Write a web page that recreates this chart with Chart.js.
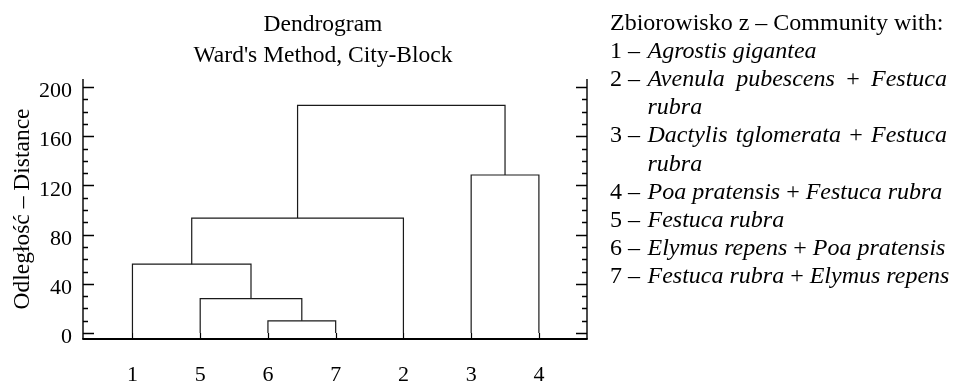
<!DOCTYPE html>
<html><head><meta charset="utf-8">
<script src="https://cdn.jsdelivr.net/npm/chart.js@4.4.1/dist/chart.umd.min.js"></script>
<style>html,body{margin:0;padding:0;background:#fff;overflow:hidden}#wrap{width:958px;height:383px;position:relative}</style>
</head><body><div id="wrap"><canvas id="c" width="958" height="383"></canvas></div>
<script>
// ---- data ----
const leafOrder = ['1', '5', '6', '7', '2', '3', '4'];
const mergeLeft = ['6', '5', '1', 'm3', '3', 'm4'];
const mergeRight = ['7', 'm1', 'm2', '2', '4', 'm5'];
const mergeHeight = [10, 28, 56, 93.5, 128.5, 185];
const yTicks = [0, 40, 80, 120, 160, 200];
const yMinorStep = 10;
const titleLines = ['Dendrogram', "Ward's Method, City-Block"];
const yTitle = 'Odległość – Distance';
const legendHeader = 'Zbiorowisko z – Community with:';
const legendNums = ['1', '2', '3', '4', '5', '6', '7'];
const legendSpecies = [
  ['Agrostis gigantea'],
  ['Avenula pubescens', 'Festuca rubra'],
  ['Dactylis tglomerata', 'Festuca rubra'],
  ['Poa pratensis', 'Festuca rubra'],
  ['Festuca rubra'],
  ['Elymus repens', 'Poa pratensis'],
  ['Festuca rubra', 'Elymus repens']
];

// ---- build dendrogram links ----
const FONT = "'Liberation Serif','Times New Roman',serif";
const fontUp = s => s + 'px ' + FONT;
const fontIt = s => 'italic ' + s + 'px ' + FONT;
const LINE = '#1a1a1a';

const pos = {};
leafOrder.forEach((l, i) => { pos[l] = { x: i + 1, y: 0 }; });
const datasets = [];
mergeHeight.forEach((h, i) => {
  const a = pos[mergeLeft[i]], b = pos[mergeRight[i]];
  datasets.push({
    data: [{ x: a.x, y: a.y }, { x: a.x, y: h }, { x: b.x, y: h }, { x: b.x, y: b.y }],
    borderColor: LINE, borderWidth: 1.2, pointRadius: 0, tension: 0, fill: false
  });
  pos['m' + (i + 1)] = { x: (a.x + b.x) / 2, y: h };
});

// ---- plugins ----
const axesPlugin = {
  id: 'axesFrame',
  afterDatasetsDraw(chart) {
    const ctx = chart.ctx, ca = chart.chartArea, ys = chart.scales.y, xs = chart.scales.x;
    ctx.save();
    ctx.strokeStyle = '#000';
    ctx.lineWidth = 1.4;
    ctx.beginPath();
    ctx.moveTo(ca.left, ca.top); ctx.lineTo(ca.left, ca.bottom);
    ctx.moveTo(ca.right, ca.top); ctx.lineTo(ca.right, ca.bottom);
    ctx.stroke();
    ctx.lineWidth = 2;
    ctx.beginPath();
    ctx.moveTo(ca.left - 0.7, ca.bottom); ctx.lineTo(ca.right + 0.7, ca.bottom);
    ctx.stroke();
    // y ticks (major + minor), both sides, pointing inward
    ctx.lineWidth = 1.4;
    ctx.beginPath();
    const yMax = yTicks[yTicks.length - 1];
    for (let v = yTicks[0]; v <= yMax + 1e-9; v += yMinorStep) {
      const p = Math.round(ys.getPixelForValue(v)) + 0.5;
      const major = yTicks.includes(v);
      const len = major ? 11 : 5;
      ctx.moveTo(ca.left, p); ctx.lineTo(ca.left + len, p);
      ctx.moveTo(ca.right, p); ctx.lineTo(ca.right - len, p);
    }
    ctx.stroke();
    // x ticks
    ctx.lineWidth = 1.2;
    ctx.beginPath();
    leafOrder.forEach((l, i) => {
      const p = Math.round(xs.getPixelForValue(i + 1)) + 0.5;
      ctx.moveTo(p, ca.bottom); ctx.lineTo(p, ca.bottom - 6);
    });
    ctx.stroke();
    ctx.restore();
  }
};

const titlePlugin = {
  id: 'titleText',
  afterDraw(chart) {
    const ctx = chart.ctx;
    ctx.save();
    ctx.fillStyle = '#000';
    ctx.font = fontUp(23.5);
    ctx.textAlign = 'center';
    ctx.textBaseline = 'alphabetic';
    ctx.fillText(titleLines[0], 323, 31);
    ctx.fillText(titleLines[1], 323, 62);
    ctx.restore();
  }
};

const legendPlugin = {
  id: 'legendText',
  afterDraw(chart) {
    const ctx = chart.ctx;
    const x0 = 610, right = 947, wrapLimit = 952, top = 29.5, lh = 28.2, size = 24;
    ctx.save();
    ctx.fillStyle = '#000';
    ctx.textBaseline = 'alphabetic';
    ctx.textAlign = 'left';
    const meas = t => { ctx.font = t.it ? fontIt(size) : fontUp(size); return ctx.measureText(t.t).width; };
    ctx.font = fontUp(size);
    const sp = ctx.measureText(' ').width;
    let y = top;
    ctx.fillText(legendHeader, x0, y);
    y += lh;
    legendNums.forEach((n, i) => {
      const prefix = n + ' – ';
      ctx.font = fontUp(size);
      const indent = ctx.measureText(prefix).width + 1.5;
      ctx.fillText(prefix, x0, y);
      const toks = [];
      legendSpecies[i].forEach((s, j) => {
        if (j) toks.push({ t: '+', it: false });
        s.split(' ').forEach(w => toks.push({ t: w, it: true }));
      });
      toks.forEach(t => { t.w = meas(t); });
      const start = x0 + indent;
      const lines = [];
      let cur = [], curW = 0;
      toks.forEach(t => {
        const add = cur.length ? sp + t.w : t.w;
        if (cur.length && start + curW + add > wrapLimit) {
          lines.push({ toks: cur, w: curW });
          cur = [t]; curW = t.w;
        } else { cur.push(t); curW += add; }
      });
      lines.push({ toks: cur, w: curW, last: true });
      lines.forEach(L => {
        let gap = sp;
        if (!L.last && L.toks.length > 1) gap = sp + (right - start - L.w) / (L.toks.length - 1);
        let x = start;
        L.toks.forEach(t => {
          ctx.font = t.it ? fontIt(size) : fontUp(size);
          ctx.fillText(t.t, x, y);
          x += t.w + gap;
        });
        y += lh;
      });
    });
    ctx.restore();
  }
};

new Chart(document.getElementById('c'), {
  type: 'line',
  data: { datasets },
  options: {
    responsive: false,
    animation: false,
    devicePixelRatio: 1,
    layout: { padding: { top: 79, left: 0, right: 371, bottom: 0 } },
    plugins: { legend: { display: false }, tooltip: { enabled: false }, title: { display: false } },
    scales: {
      x: {
        type: 'linear', min: 0.27, max: 7.71,
        grid: { display: false, drawTicks: false },
        border: { display: false },
        afterFit: s => { s.height = 44; },
        afterBuildTicks: s => { s.ticks = leafOrder.map((l, i) => ({ value: i + 1 })); },
        ticks: {
          padding: 23, color: '#000', font: { family: FONT, size: 22 }, maxRotation: 0, autoSkip: false,
          callback: (v) => leafOrder[Math.round(v) - 1]
        }
      },
      y: {
        type: 'linear', min: -4.8, max: 206.5,
        grid: { display: false, drawTicks: false },
        border: { display: false },
        afterFit: s => { s.width = 83; },
        afterBuildTicks: s => { s.ticks = yTicks.map(v => ({ value: v })); },
        ticks: { padding: 11, labelOffset: 4.5, color: '#000', font: { family: FONT, size: 22 } },
        title: { display: true, text: yTitle, color: '#000', font: { family: FONT, size: 23.5 }, padding: { top: 9, bottom: 0 } }
      }
    }
  },
  plugins: [axesPlugin, titlePlugin, legendPlugin]
});
</script>
</body></html>
